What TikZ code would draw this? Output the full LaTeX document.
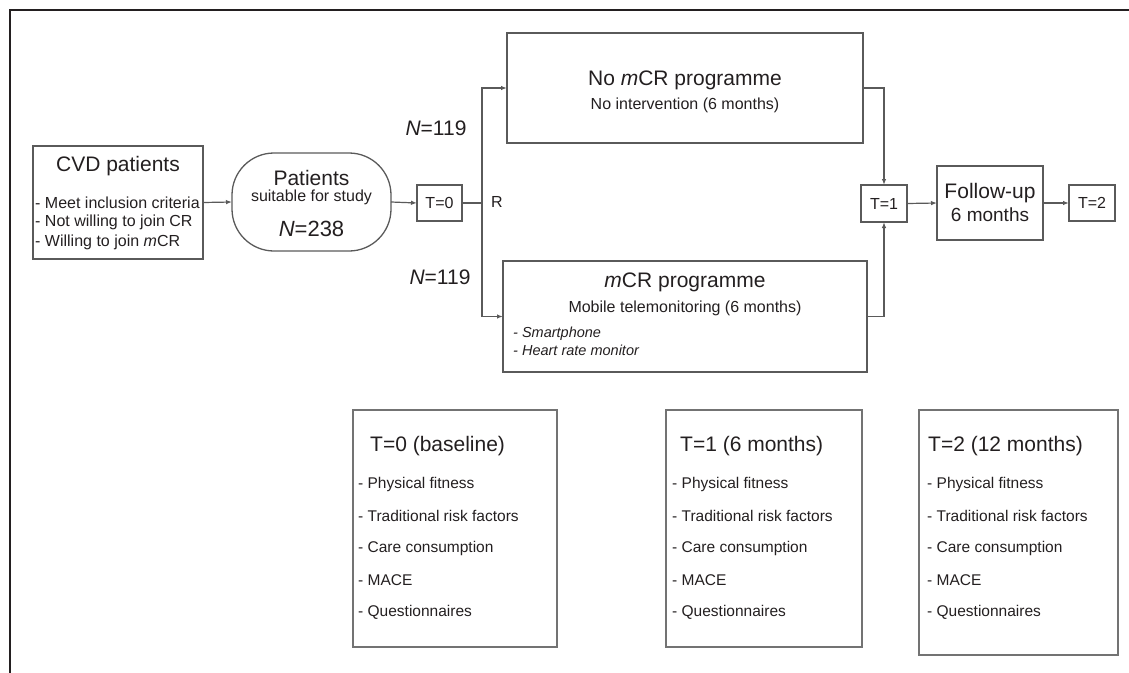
\documentclass[tikz,border=0pt]{standalone}
\usepackage{fontspec}
\setmainfont{Liberation Sans}
\usetikzlibrary{arrows.meta}
\definecolor{ink}{HTML}{231F20}
\definecolor{edge}{HTML}{5A5A5A}
\begin{document}
\begin{tikzpicture}[x=1pt,y=-1pt,
  box/.style={draw=edge,line width=1.3pt,inner sep=0pt,outer sep=0pt,text=ink},
  lbox/.style={draw=edge!85,line width=1.5pt,inner sep=0pt,outer sep=0pt},
  conn/.style={draw=edge,line width=1.2pt},
  arr/.style={conn,-{Latex[length=6pt,width=4.5pt]}},
  txt/.style={inner sep=0pt,text=ink},
  big/.style={txt,font=\fontsize{21}{24}\selectfont},
  mid/.style={txt,font=\fontsize{16}{19}\selectfont},
  item/.style={txt,anchor=west,font=\fontsize{15.5}{18}\selectfont}]
\useasboundingbox (0,0) rectangle (1129,672);
% frame
\draw[ink,line width=2.2pt] (10,690) -- (10,10) -- (1140,10);

% CVD box
\node[box,minimum width=170pt,minimum height=113pt] (cvd) at (118,202.5) {};
\node[big] (cvdt) at (118,166) {CVD patients};
\node[mid,anchor=west] (cvd1) at (35,203) {- Meet inclusion criteria};
\node[mid,anchor=west] (cvd2) at (35,222.5) {- Not willing to join CR};
\node[mid,anchor=west] (cvd3) at (35,242) {- Willing to join \textit{m}CR};

% Patients stadium
\node[box,rounded corners=42pt,minimum width=159pt,minimum height=98pt] (pat) at (311.5,202) {};
\node[big] (patt) at (311.5,178) {Patients};
\node[mid] (pats) at (311.5,197) {suitable for study};
\node[txt,font=\fontsize{22}{25}\selectfont] (patn) at (311.5,229) {\textit{N}=238};

% T=0
\node[box,minimum width=45pt,minimum height=36pt,font=\fontsize{16}{19}\selectfont] (t0) at (439.5,203) {T=0};
\coordinate (br) at (482,203);
\node[mid] (rl) at (497,202) {R};
\node[big] (n1) at (436,128) {\textit{N}=119};
\node[big] (n2) at (440,277) {\textit{N}=119};

% arms
\node[box,minimum width=356pt,minimum height=110pt] (nomcr) at (685,88) {};
\node[big] (nomcrt) at (685,80) {No \textit{m}CR programme};
\node[mid] (nomcrs) at (685,105) {No intervention (6 months)};

\node[box,minimum width=364pt,minimum height=111pt] (mcr) at (685,316.5) {};
\node[big] (mcrt) at (685,282) {\textit{m}CR programme};
\node[mid] (mcrs) at (685,308) {Mobile telemonitoring (6 months)};
\node[txt,anchor=west,font=\fontsize{14.5}{17}\selectfont] (mcr1) at (513,334) {\textit{- Smartphone}};
\node[txt,anchor=west,font=\fontsize{14.5}{17}\selectfont] (mcr2) at (513,350) {\textit{- Heart rate monitor}};

% T=1, follow-up, T=2
\node[box,minimum width=46pt,minimum height=37pt,font=\fontsize{16}{19}\selectfont] (t1) at (884,203.5) {T=1};
\node[box,minimum width=106pt,minimum height=74pt] (fu) at (990,203) {};
\node[big] (fut) at (990,193) {Follow-up};
\node[txt,font=\fontsize{19}{22}\selectfont] (fus) at (990,215) {6 months};
\node[box,minimum width=46pt,minimum height=36pt,font=\fontsize{16}{19}\selectfont] (t2) at (1092,203) {T=2};

% connectors
\draw[arr] (cvd.east) -- (pat.west);
\draw[arr] (pat.east) -- (t0.west);
\draw[conn] (t0.east) -- (br);
\draw[arr] (br) |- (nomcr.west);
\draw[arr] (br) |- (mcr.west);
\draw[arr] (nomcr.east) -| (t1.north);
\draw[arr] (mcr.east) -| (t1.south);
\draw[arr] (t1.east) -- (fu.west);
\draw[arr] (fu.east) -- (t2.west);

% measurement boxes
\node[lbox,minimum width=204pt,minimum height=237pt] (b0) at (455,528.5) {};
\node[big,anchor=west] (b0t) at (370,446) {T=0 (baseline)};
\node[item] (b01) at (358,484) {- Physical fitness};
\node[item] (b02) at (358,516) {- Traditional risk factors};
\node[item] (b03) at (358,548) {- Care consumption};
\node[item] (b04) at (358,580) {- MACE};
\node[item] (b05) at (358,612) {- Questionnaires};

\node[lbox,minimum width=196pt,minimum height=237pt] (b1) at (764,528.5) {};
\node[big,anchor=west] (b1t) at (680,446) {T=1 (6 months)};
\node[item] (b11) at (672,484) {- Physical fitness};
\node[item] (b12) at (672,516) {- Traditional risk factors};
\node[item] (b13) at (672,548) {- Care consumption};
\node[item] (b14) at (672,580) {- MACE};
\node[item] (b15) at (672,612) {- Questionnaires};

\node[lbox,minimum width=199pt,minimum height=245pt] (b2) at (1018.5,532.5) {};
\node[big,anchor=west] (b2t) at (928,446) {T=2 (12 months)};
\node[item] (b21) at (927,484) {- Physical fitness};
\node[item] (b22) at (927,516) {- Traditional risk factors};
\node[item] (b23) at (927,548) {- Care consumption};
\node[item] (b24) at (927,580) {- MACE};
\node[item] (b25) at (927,612) {- Questionnaires};
\end{tikzpicture}
\end{document}
